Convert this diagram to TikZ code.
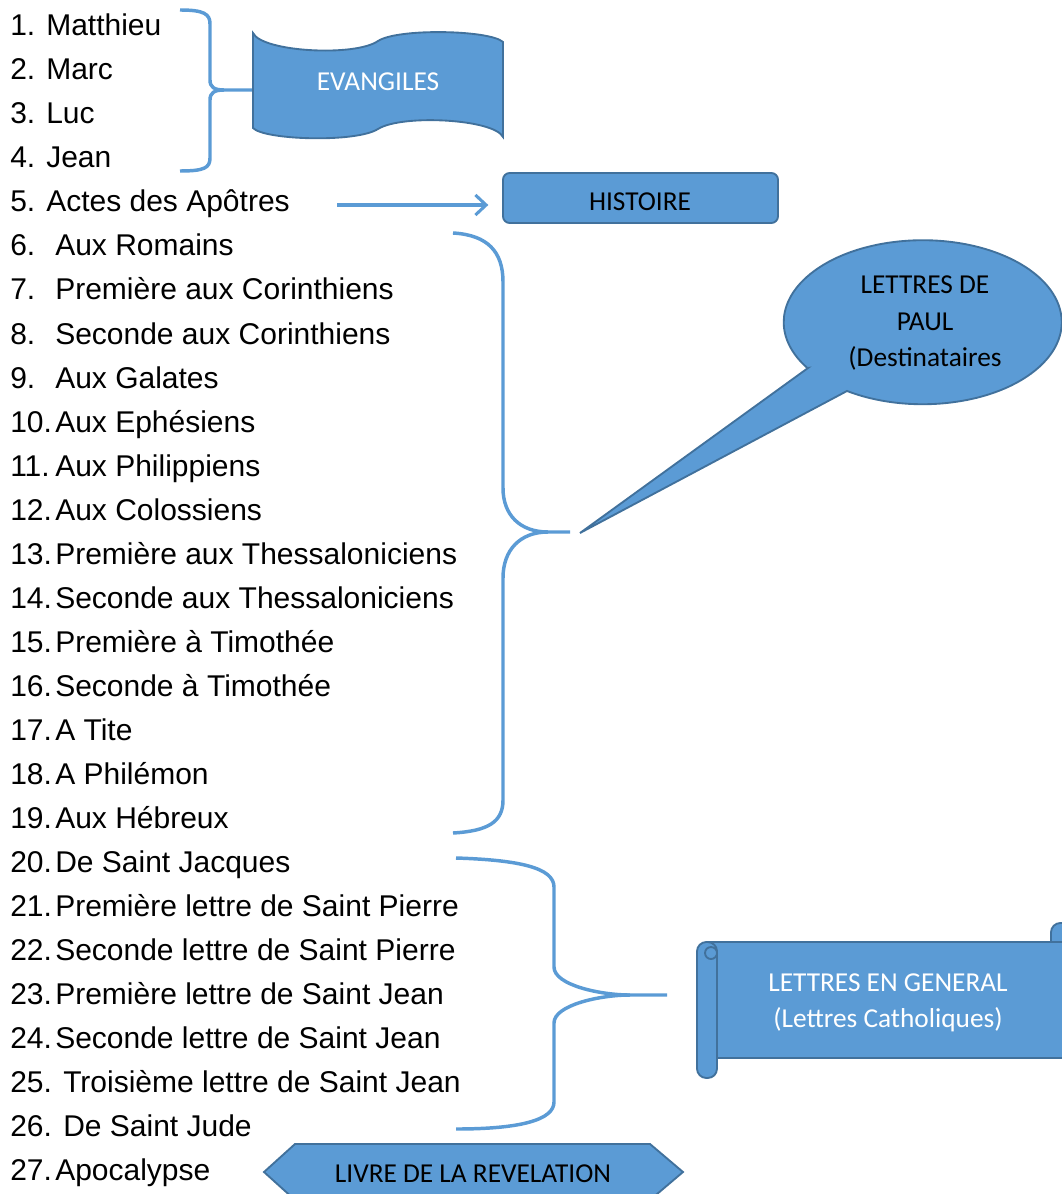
\documentclass[tikz,border=0pt]{standalone}
\usepackage{fontspec}
\setmainfont{Liberation Sans}
\newfontfamily\calibri{Carlito}
\usetikzlibrary{arrows.meta}
\definecolor{bleu}{HTML}{5B9BD5}
\definecolor{bleufonce}{HTML}{41719C}

\begin{document}
\begin{tikzpicture}[x=0.75pt, y=-0.75pt,
    num/.style={anchor=base west, inner sep=0pt, font=\fontsize{22.5}{27}\selectfont},
    livre/.style={anchor=base west, inner sep=0pt, font=\fontsize{22.5}{27}\selectfont},
    accolade/.style={draw=bleu, line width=2.6pt},
    forme/.style={draw=bleufonce, fill=bleu, line width=1.4pt},
    etiq/.style={anchor=base, inner sep=0pt, font=\calibri\fontsize{20.5}{27}\selectfont},
    blanc/.style={etiq, text=white},
    >={Straight Barb[length=8pt,width=15pt]}]

    \clip (0,0) rectangle (1062,1194);

    % liste des livres
    \node[num] (n1) at (10,36) {1.};    \node[livre] (l1) at (46,36) {Matthieu};
    \node[num] (n2) at (10,80) {2.};    \node[livre] (l2) at (46,80) {Marc};
    \node[num] (n3) at (10,124) {3.};   \node[livre] (l3) at (46,124) {Luc};
    \node[num] (n4) at (10,168) {4.};   \node[livre] (l4) at (46,168) {Jean};
    \node[num] (n5) at (10,212) {5.};   \node[livre] (l5) at (46,212) {Actes des Apôtres};
    \node[num] (n6) at (10,256) {6.};   \node[livre] (l6) at (55,256) {Aux Romains};
    \node[num] (n7) at (10,300) {7.};   \node[livre] (l7) at (55,300) {Première aux Corinthiens};
    \node[num] (n8) at (10,344) {8.};   \node[livre] (l8) at (55,344) {Seconde aux Corinthiens};
    \node[num] (n9) at (10,388) {9.};   \node[livre] (l9) at (55,388) {Aux Galates};
    \node[num] (n10) at (10,432) {10.}; \node[livre] (l10) at (55,432) {Aux Ephésiens};
    \node[num] (n11) at (10,476) {11.}; \node[livre] (l11) at (55,476) {Aux Philippiens};
    \node[num] (n12) at (10,520) {12.}; \node[livre] (l12) at (55,520) {Aux Colossiens};
    \node[num] (n13) at (10,564) {13.}; \node[livre] (l13) at (55,564) {Première aux Thessaloniciens};
    \node[num] (n14) at (10,608) {14.}; \node[livre] (l14) at (55,608) {Seconde aux Thessaloniciens};
    \node[num] (n15) at (10,652) {15.}; \node[livre] (l15) at (55,652) {Première à Timothée};
    \node[num] (n16) at (10,696) {16.}; \node[livre] (l16) at (55,696) {Seconde à Timothée};
    \node[num] (n17) at (10,740) {17.}; \node[livre] (l17) at (55,740) {A Tite};
    \node[num] (n18) at (10,784) {18.}; \node[livre] (l18) at (55,784) {A Philémon};
    \node[num] (n19) at (10,828) {19.}; \node[livre] (l19) at (55,828) {Aux Hébreux};
    \node[num] (n20) at (10,872) {20.}; \node[livre] (l20) at (55,872) {De Saint Jacques};
    \node[num] (n21) at (10,916) {21.}; \node[livre] (l21) at (55,916) {Première lettre de Saint Pierre};
    \node[num] (n22) at (10,960) {22.}; \node[livre] (l22) at (55,960) {Seconde lettre de Saint Pierre};
    \node[num] (n23) at (10,1004) {23.}; \node[livre] (l23) at (55,1004) {Première lettre de Saint Jean};
    \node[num] (n24) at (10,1048) {24.}; \node[livre] (l24) at (55,1048) {Seconde lettre de Saint Jean};
    \node[num] (n25) at (10,1092) {25.}; \node[livre] (l25) at (63,1092) {Troisième lettre de Saint Jean};
    \node[num] (n26) at (10,1136) {26.}; \node[livre] (l26) at (63,1136) {De Saint Jude};
    \node[num] (n27) at (10,1180) {27.}; \node[livre] (l27) at (55,1180) {Apocalypse};

    % accolades
    \draw[accolade] (180,10) .. controls (204,10) and (210,14) .. (210,24) -- (210,80)
        .. controls (210,87) and (214,90) .. (224,90) -- (253,90);
    \draw[accolade] (224,90) .. controls (214,90) and (210,93) .. (210,100) -- (210,158)
        .. controls (210,168) and (204,171) .. (180,171);
    \draw[accolade] (453,233) .. controls (488,235) and (503,252) .. (503,282) -- (503,488)
        .. controls (503,515) and (520,532) .. (548,532) -- (570,532);
    \draw[accolade] (548,532) .. controls (520,532) and (503,550) .. (503,578) -- (503,800)
        .. controls (503,822) and (488,831) .. (453,833);
    \draw[accolade] (456,858) .. controls (520,860) and (554,868) .. (554,887) -- (554,967)
        .. controls (554,985) and (600,995) .. (630,995) -- (667,995);
    \draw[accolade] (630,995) .. controls (600,995) and (554,1005) .. (554,1023) -- (554,1102)
        .. controls (554,1120) and (520,1129) .. (456,1129);

    % EVANGILES
    \draw[forme] (253,33) .. controls (262,52) and (355,57) .. (378,41)
        .. controls (398,28) and (490,30) .. (503,42) -- (503,137)
        .. controls (494,119) and (402,114) .. (378,129)
        .. controls (356,143) and (264,140) .. (253,128) -- cycle;
    \node[blanc] (evangiles) at (378,91) {EVANGILES};

    % HISTOIRE
    \node[forme, rounded corners=5pt, minimum width=206.25pt, minimum height=37.5pt,
        inner sep=0pt, outer sep=0pt] (histoire) at (640.5,198) {};
    \node[etiq] (histoiretxt) at (640,211) {HISTOIRE};
    \coordinate (a5) at (337,205);
    \draw[draw=bleu, line width=2.3pt, ->, shorten >=11pt] (a5) -- (histoire.west |- a5);

    % LETTRES DE PAUL
    \draw[forme] (808,368) -- (580,533) -- (847,391)
        arc[start angle=123, end angle=-214, x radius=139, y radius=82] -- cycle;
    \node[etiq] (paul1) at (925,294) {LETTRES DE};
    \node[etiq] (paul2) at (925,330) {PAUL};
    \node[etiq] (paul3) at (925,366) {(Destinataires};

    % LETTRES EN GENERAL
    \draw[forme, rounded corners=7pt] (1051,923) rectangle (1075,1045);
    \draw[forme] (707,942) rectangle (1080,1058);
    \draw[forme, rounded corners=7pt] (697,942) rectangle (717,1078);
    \draw[forme] (711,953) circle (6);
    \node[blanc] (generales1) at (888,991) {LETTRES EN GENERAL};
    \node[blanc] (generales2) at (888,1027) {(Lettres Catholiques)};

    % LIVRE DE LA REVELATION
    \draw[forme] (264,1172) -- (295,1144) -- (650,1144) -- (683,1172) -- (650,1200)
        -- (295,1200) -- cycle;
    \node[etiq] (revelation) at (473,1182) {LIVRE DE LA REVELATION};
\end{tikzpicture}
\end{document}
